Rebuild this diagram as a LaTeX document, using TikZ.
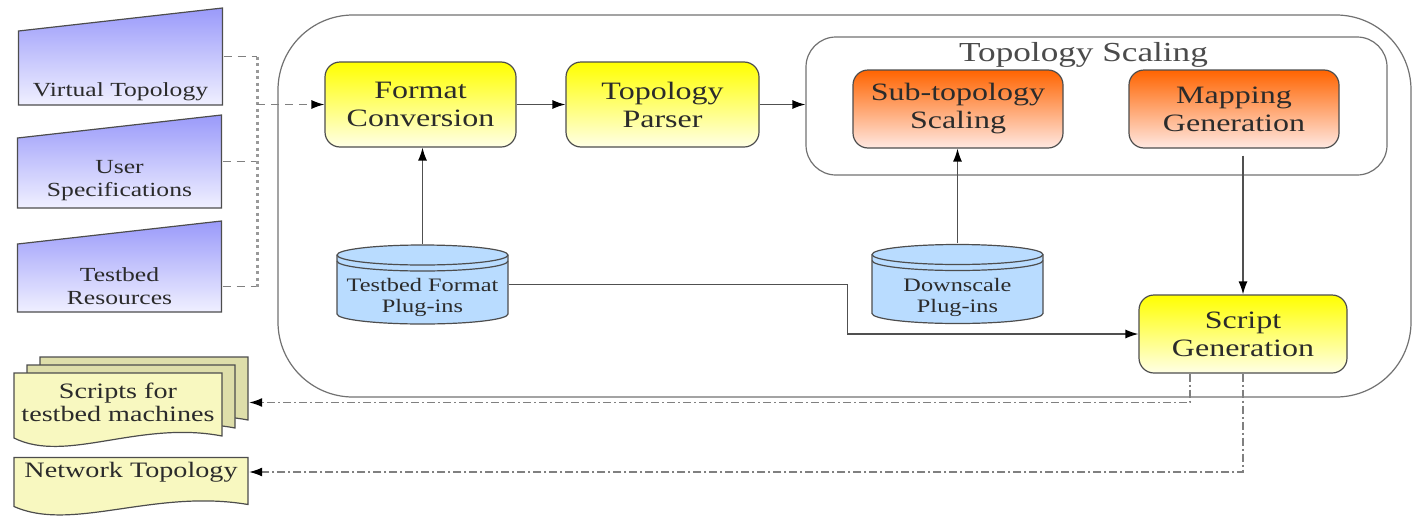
\documentclass[tikz,border=0pt]{standalone}
\usepackage{fontspec}
\setmainfont{Liberation Serif}[FakeStretch=1.28]
\usetikzlibrary{arrows.meta,calc}

\definecolor{linegray}{HTML}{505050}
\definecolor{boxline}{HTML}{4D4D4D}
\definecolor{txt}{HTML}{2B2B2B}
\definecolor{procyel}{HTML}{FFFF00}
\definecolor{procyelb}{HTML}{FFFFE6}
\definecolor{scalorange}{HTML}{FF6400}
\definecolor{scalpink}{HTML}{FFE8E2}
\definecolor{cylblue}{HTML}{B9DCFF}
\definecolor{inblue}{HTML}{9A9AFA}
\definecolor{inblueb}{HTML}{F0F0FF}
\definecolor{docyel}{HTML}{F8F8C0}
\definecolor{docback}{HTML}{DEDEAA}

\newcommand{\boxfont}{\fontsize{25}{28}\selectfont}
\newcommand{\titlefont}{\fontsize{27.5}{30}\selectfont}
\newcommand{\cylfont}{\fontsize{19}{21}\selectfont}
\newcommand{\infont}{\fontsize{20}{23}\selectfont}
\newcommand{\outfont}{\fontsize{22}{22.5}\selectfont}

% Blatt mit welliger Unterkante: #1 linke obere Ecke, #2 Breite, #3 Hoehe
\newcommand{\docsheet}[3]{(#1) -- ($(#1)+(#2,0)$) -- ($(#1)+(#2,#3-12)$)
    .. controls ($(#1)+(0.6*#2,#3-28)$) and ($(#1)+(0.25*#2,#3+16)$) .. ($(#1)+(0,#3-10)$) -- cycle}

\tikzset{
    proc/.style={draw=boxline, line width=1.2pt, rounded corners=15pt,
        top color=procyel, bottom color=procyelb, text=txt, font=\boxfont,
        align=center, minimum width=191pt, minimum height=85pt, inner sep=0pt},
    scal/.style={proc, top color=scalorange, bottom color=scalpink,
        minimum width=210pt, minimum height=78pt},
    group/.style={draw=boxline!80, line width=1.2pt, rounded corners=30pt,
        minimum width=581pt, minimum height=138pt},
    flow/.style={draw=linegray, line width=1.3pt, -{Latex[length=13pt, width=9pt, color=black]}},
    indash/.style={draw=gray, line width=1.3pt, dash pattern=on 8pt off 6pt},
    inbus/.style={draw=gray!80, line width=2.5pt, dash pattern=on 3pt off 3.5pt},
    outdash/.style={draw=gray, line width=1.3pt, dash pattern=on 8pt off 3pt on 2pt off 3pt,
        -{Latex[length=13pt, width=9pt, color=black]}},
    lbl/.style={text=txt, align=center, inner sep=0pt},
    inputdoc/.style={minimum width=206pt, inner sep=0pt,
        path picture={
            \coordinate (pnw) at (path picture bounding box.north west);
            \coordinate (pse) at (path picture bounding box.south east);
            \path[draw=boxline, line width=1.2pt, top color=inblue, bottom color=inblueb]
                ($(pnw|-pse)+(1,-1)$) -- ($(pse)+(-1,-1)$) -- ($(pnw-|pse)+(-1,1)$)
                -- ($(pnw)+(1,24)$) -- cycle;
        }},
    stackdoc/.style={minimum width=236pt, minimum height=93pt, inner sep=0pt,
        path picture={
            \coordinate (pnw) at (path picture bounding box.north west);
            \foreach \j/\f in {0/docback, 1/docback, 2/docyel}
            {
                \coordinate (sh) at ($(pnw)+(27-13*\j,1+8*\j)$);
                \path[draw=boxline, line width=1.2pt, fill=\f] \docsheet{sh}{208}{75};
            }
        }},
    netdoc/.style={minimum width=236pt, minimum height=61pt, inner sep=0pt,
        path picture={
            \coordinate (sh) at ($(path picture bounding box.north west)+(1,1)$);
            \path[draw=boxline, line width=1.2pt, fill=docyel] \docsheet{sh}{234}{59};
        }},
    cyl/.style={minimum width=173pt, minimum height=81pt, inner sep=0pt,
        path picture={
            \coordinate (c) at ($(path picture bounding box.north west)+(1,1)$);
            \path[draw=boxline, line width=1.2pt, fill=cylblue]
                ($(c)+(0,10)$) -- ($(c)+(0,69)$)
                arc[start angle=180, end angle=0, x radius=85.5, y radius=10]
                -- ($(c)+(171,10)$)
                arc[start angle=0, end angle=-180, x radius=85.5, y radius=10] -- cycle;
            \draw[boxline, line width=1.2pt] ($(c)+(0,10)$)
                arc[start angle=180, end angle=0, x radius=85.5, y radius=10];
            \draw[boxline, line width=1.2pt] ($(c)+(0,16)$)
                arc[start angle=180, end angle=0, x radius=85.5, y radius=10];
        }},
}

\begin{document}
\begin{tikzpicture}[x=1pt, y=-1pt]
    \useasboundingbox (0,0) rectangle (1412,517);
    % Rahmen
    \draw[boxline!80, line width=1.2pt, rounded corners=75pt] (278,15) rectangle (1411,397);

    % Eingaben
    \node[inputdoc, minimum height=99pt,
        label={[lbl, font=\infont, yshift=-35.5pt]center:Virtual Topology}] (vt) at (120.5,56.5) {};
    \node[inputdoc, minimum height=95pt,
        label={[lbl, font=\infont, yshift=-19.5pt]center:{User\\Specifications}}] (us) at (119.5,161.5) {};
    \node[inputdoc, minimum height=93pt,
        label={[lbl, font=\infont, yshift=-19.5pt]center:{Testbed\\Resources}}] (tr) at (119.5,266.5) {};

    % Bausteine
    \node[proc] (fc) at (420.5,104.5) {Format\\Conversion};
    \node[proc, minimum width=193pt] (tp) at (662.5,104.5) {Topology\\Parser};
    \node[group, label={[lbl, text=txt!85, font=\titlefont, xshift=-13pt, yshift=51pt]center:Topology Scaling}]
        (ts) at (1096.5,106) {};
    \node[scal] (sts) at (958,109) {Sub-topology\\Scaling};
    \node[scal] (mg) at (1234,109) {Mapping\\Generation};
    \node[proc, minimum width=208pt, minimum height=78pt] (sg) at (1243,334) {Script\\Generation};

    % Plug-ins
    \node[cyl, label={[lbl, font=\cylfont, yshift=-13pt]center:{Testbed Format\\Plug-ins}}] (tf) at (422.5,284.5) {};
    \node[cyl, label={[lbl, font=\cylfont, yshift=-13pt]center:{Downscale\\Plug-ins}}] (ds) at (957.5,284) {};

    % Ausgaben
    \node[stackdoc, label={[lbl, font=\outfont, xshift=-13pt]center:{Scripts for\\testbed machines}}] (scr) at (131,402.5) {};
    \node[netdoc, label={[lbl, font=\outfont, yshift=15pt]center:Network Topology}] (net) at (131,487) {};

    % Verbindungen Eingaben
    \coordinate (merge) at ($(fc.west)+(-67,0)$);
    \coordinate (trout) at ([yshift=-20pt]tr.east);
    \draw[indash] (vt.east) -- (vt.east -| merge);
    \draw[indash] (us.east) -- (us.east -| merge);
    \draw[indash] (trout) -- (trout -| merge);
    \draw[inbus] (vt.east -| merge) -- (trout -| merge);
    \draw[indash, -{Latex[length=13pt, width=9pt, color=black]}] (merge) -- (fc.west);

    % Ablauf
    \draw[flow] (fc) -- (tp);
    \draw[flow] (tp.east) -- (tp.east -| ts.west);
    \draw[flow] (tf.north) -- (tf.north |- fc.south);
    \draw[flow] (ds.north) -- (ds.north |- sts.south);
    \draw[flow, shorten <=7pt] (sg.north |- mg.south) -- (sg.north);
    \draw[flow] (tf.east) -- ++(338,0) |- (sg.west);

    % Verbindungen Ausgaben
    \draw[outdash] ([xshift=-53pt]sg.south) |- (scr.east);
    \draw[outdash] (sg.south) |- ([yshift=15pt]net.east);
\end{tikzpicture}
\end{document}
